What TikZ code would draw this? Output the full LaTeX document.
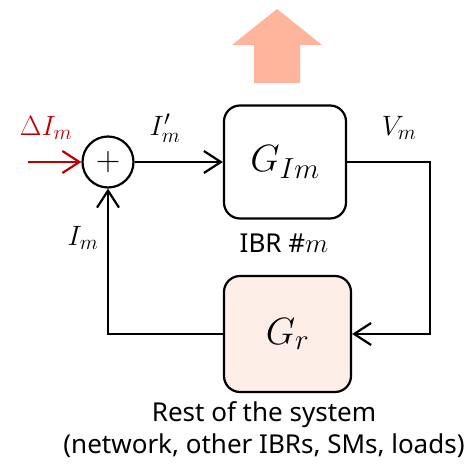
\RequirePackage{fix-cm}
\documentclass[tikz,border=0pt]{standalone}
\usepackage{fontspec}
\setsansfont{Noto Sans}
\usetikzlibrary{arrows.meta}
\DeclareMathSizes{38}{38}{29}{22}
\DeclareMathSizes{34}{34}{26}{19}
\DeclareMathSizes{28}{28}{21}{16}
\DeclareMathSizes{26}{27}{20}{15}
\definecolor{peach}{HTML}{FFB59B}
\definecolor{pinkbg}{HTML}{FDEEE8}
\definecolor{redc}{HTML}{C00000}
\tikzset{
  blk/.style={draw, line width=2.2pt, rounded corners=16pt, minimum width=122pt, minimum height=113pt, inner sep=0pt, font=\fontsize{38}{44}\selectfont},
  sumc/.style={draw, circle, line width=2.2pt, minimum size=51pt, inner sep=0pt, font=\fontsize{34}{38}\selectfont},
  wire/.style={line width=2.2pt},
  tip/.style={-{Straight Barb[length=17pt,width=22pt,line width=2.2pt]}},
  lbl/.style={font=\fontsize{28}{32}\selectfont, inner sep=0pt},
  txt/.style={font=\sffamily\fontsize{26}{32}\selectfont, inner sep=0pt, align=center}
}
\begin{document}
\begin{tikzpicture}[x=1pt,y=-1pt]
\useasboundingbox (0,0) rectangle (469,466);
\fill[peach] (254,83) -- (254,45) -- (232,45) -- (277,9) -- (322,45) -- (300,45) -- (300,83) -- cycle;
\node[sumc] (sum) at (108,162) {$+$};
\node[blk] (gim) at (285,162) {$G_{Im}$};
\node[blk, fill=pinkbg, minimum width=127pt, minimum height=116pt] (gr) at (287.5,334) {$G_r$};
\coordinate (src) at (28,162);
\coordinate (c1) at (430,162);
\coordinate (c2) at (430,334);
\coordinate (c3) at (108,334);
\draw[wire, redc, tip] (src) -- (sum.west);
\draw[wire, tip] (sum.east) -- (gim.west);
\draw[wire, tip] (gim.east) -- (c1) -- (c2) -- (gr.east);
\draw[wire, tip] (gr.west) -- (c3) -- (sum.south);
\node[lbl, text=redc] (dI) at (46,128) {$\Delta I_m$};
\node[lbl] (Ip) at (165,128) {$I'_m$};
\node[lbl] (Vm) at (399,128) {$V_m$};
\node[lbl] (Im) at (83,238) {$I_m$};
\node[txt] (ibr) at (284,243) {IBR \#$m$};
\node[txt] (rest) at (264,430) {Rest of the system\\(network, other IBRs, SMs, loads)};
\end{tikzpicture}
\end{document}
